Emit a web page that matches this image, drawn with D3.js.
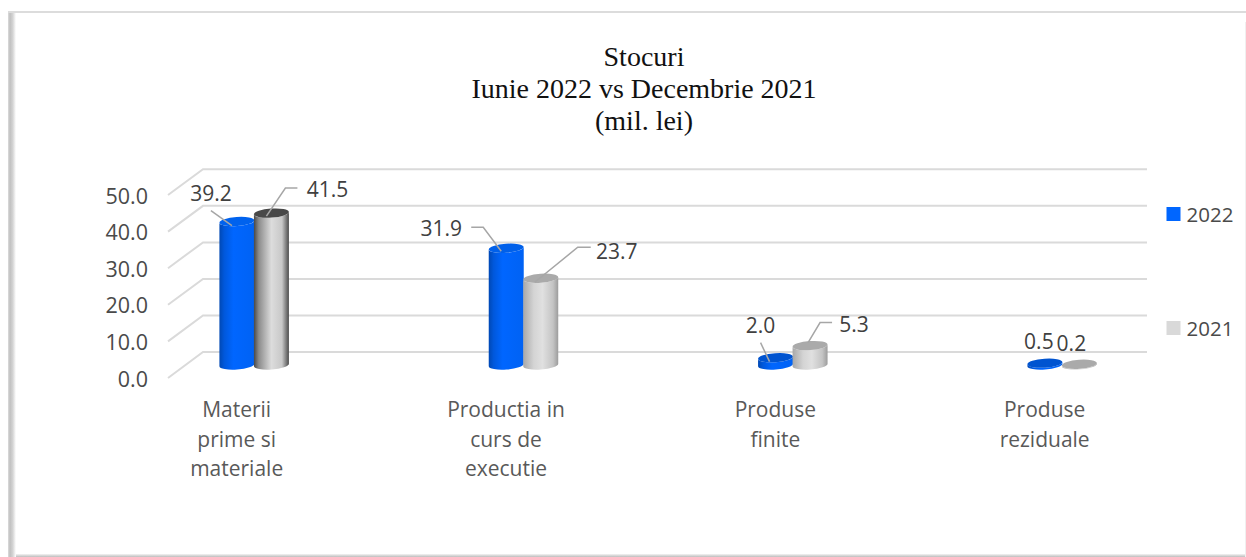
<!DOCTYPE html>
<html>
<head>
<meta charset="utf-8">
<script src="https://cdnjs.cloudflare.com/ajax/libs/d3/7.8.5/d3.min.js"></script>
<style>
  html, body { margin: 0; padding: 0; background: #fff; }
  svg { display: block; }
  .sans { font-family: "Open Sans", sans-serif; fill: #4a4a4a; }
  .cat { fill: #595959; }
  .title { font-family: "Liberation Serif", serif; fill: #111; font-size: 28px; }
</style>
</head>
<body>
<div id="chart"></div>
<script>
const titleLines = ["Stocuri", "Iunie 2022 vs Decembrie 2021", "(mil. lei)"];
const categories = [
  ["Materii", "prime si", "materiale"],
  ["Productia in", "curs de", "executie"],
  ["Produse", "finite"],
  ["Produse", "reziduale"]
];
const seriesNames = ["2022", "2021"];
const values2022 = [39.2, 31.9, 2.0, 0.5];
const values2021 = [41.5, 23.7, 5.3, 0.2];
const axisTicks = [0, 10, 20, 30, 40, 50];

// Callout placement for each value label, relative to the top of its cylinder.
const callouts2022 = [
  { label: [-26, -28.5], line: [[-26, -11], [-5, 4]] },
  { label: [-65, -20], line: [[-35, -21], [-23, -21], [-5, 3]] },
  { label: [-15, -32], line: [[-15, -15], [-6, 4]] },
  { label: [-6, -22], line: null }
];
const callouts2021 = [
  { label: [56, -24], line: [[-5, 3], [14, -25], [26, -25]] },
  { label: [76, -27], line: [[-6, 4], [37, -31], [50, -31]] },
  { label: [44, -21], line: [[-2, -3], [10, -23], [22, -23]] },
  { label: [-8, -21], line: null }
];

const width = 1246, height = 557;
const svg = d3.select("#chart").append("svg").attr("width", width).attr("height", height);
const defs = svg.append("defs");

function gradient(id, stops, vertical) {
  const g = defs.append("linearGradient").attr("id", id);
  if (vertical) g.attr("x2", 0).attr("y2", 1);
  g.selectAll("stop").data(stops).join("stop")
    .attr("offset", d => d[0]).attr("stop-color", d => d[1]);
}
gradient("blueBody", [[0, "#0048b4"], [0.14, "#0058dc"], [0.4, "#0066ff"], [1, "#0062f4"]]);
gradient("greyStrong", [[0, "#484848"], [0.14, "#8c8c8c"], [0.5, "#dcdcdc"], [0.8, "#c8c8c8"], [1, "#4c4c4c"]]);
gradient("greySoft", [[0, "#a8a8a8"], [0.3, "#d4d4d4"], [0.55, "#e0e0e0"], [0.85, "#c4c4c4"], [1, "#9c9c9c"]]);

// Frame: pale outer rule with a bevelled left and bottom edge.
gradient("bevelLeft", [[0, "#dcdcdc"], [0.25, "#c0c0c0"], [0.6, "#d4d4d4"], [1, "#ffffff"]]);
gradient("bevelBottom", [[0, "#f4f4f4"], [0.4, "#dedede"], [1, "#bdbdbd"]], true);
svg.append("rect").attr("x", 8).attr("y", 554).attr("width", 1238).attr("height", 3).attr("fill", "url(#bevelBottom)");
svg.append("rect").attr("x", 8).attr("y", 11).attr("width", 8).attr("height", 546).attr("fill", "url(#bevelLeft)");
svg.append("rect").attr("x", 8).attr("y", 11).attr("width", 1238).attr("height", 2).attr("fill", "#dcdcdc");
svg.append("rect").attr("x", 1245).attr("y", 22).attr("width", 1).attr("height", 535).attr("fill", "#f0f0f0");

// Title
svg.append("g").selectAll("text").data(titleLines).join("text")
  .attr("class", "title").attr("x", 644).attr("y", (d, i) => 66 + i * 32)
  .attr("text-anchor", "middle").text(d => d);

// Scales: the floor is drawn in perspective, so the same value sits at three heights.
const yBack = d3.scaleLinear().domain([0, 50]).range([352, 169.3]);
const yFront = d3.scaleLinear().domain([0, 50]).range([378, 195]);
const yMark = d3.scaleLinear().domain([0, 50]).range([365, 182]);
const x = d3.scaleBand().domain(d3.range(categories.length)).range([119.5, 1196.8]);
const groupCentre = i => x(i) + x.bandwidth() / 2;

const sideX = [168, 203], backEnd = 1147;
const grid = svg.append("g").attr("stroke", "#dadada").attr("stroke-width", 2).attr("fill", "none");
grid.selectAll("path").data(axisTicks).join("path")
  .attr("d", d => `M${sideX[0]},${yFront(d)}L${sideX[1]},${yBack(d)}L${backEnd},${yBack(d)}`);

// Axis labels
svg.append("g").selectAll("text").data(axisTicks).join("text")
  .attr("class", "sans").attr("font-size", 21.5).attr("x", 148).attr("y", d => yFront(d) + 8.5)
  .attr("text-anchor", "end").text(d => d.toFixed(1));

const catLabels = svg.append("g").selectAll("g").data(categories).join("g")
  .attr("transform", (d, i) => `translate(${groupCentre(i) - 17.5},0)`);
catLabels.selectAll("text").data(d => d).join("text")
  .attr("class", "sans cat").attr("font-size", 21).attr("text-anchor", "middle")
  .attr("y", (d, i) => 417 + i * 29.5).text(d => d);

// Cylinders
const rx = 17.5, ry = 4.5, tilt = 1.2;
function bodyPath(cx, topY, baseY) {
  const l = cx - rx, r = cx + rx;
  return `M${l},${topY + tilt}L${l},${baseY + tilt}` +
    `A${rx},${ry} -4 0 0 ${r},${baseY - tilt}L${r},${topY - tilt}` +
    `A${rx},${ry} -4 0 1 ${l},${topY + tilt}Z`;
}
const series = [
  { name: seriesNames[0], values: values2022, callouts: callouts2022, dx: -17.25,
    fill: () => "url(#blueBody)", top: i => i === 0 ? "#0062ee" : i === 1 ? "#0060ea" : "#0054d0" },
  { name: seriesNames[1], values: values2021, callouts: callouts2021, dx: 17.25,
    fill: i => i === 0 ? "url(#greyStrong)" : "url(#greySoft)", top: i => i === 0 ? "#484848" : "#aaaaaa" }
];
series.forEach(s => {
  const g = svg.append("g");
  const rows = s.values.map((v, i) => ({ v, i, cx: groupCentre(i) + s.dx, topY: yMark(v), baseY: yMark(0) }));
  g.selectAll("path.body").data(rows).join("path").attr("class", "body")
    .attr("d", d => bodyPath(d.cx, d.topY, d.baseY))
    .attr("fill", d => s.fill(d.i));
  g.selectAll("ellipse").data(rows).join("ellipse")
    .attr("rx", rx).attr("ry", ry)
    .attr("transform", d => `translate(${d.cx},${d.topY}) rotate(-4)`)
    .attr("fill", d => s.top(d.i));
});

// Value labels and their leader lines
const line = d3.line();
const leaders = svg.append("g").attr("fill", "none").attr("stroke", "#a6a6a6").attr("stroke-width", 1.5);
const valueLabels = svg.append("g");
series.forEach(s => {
  s.values.forEach((v, i) => {
    const ax = groupCentre(i) + s.dx, ay = yMark(v), c = s.callouts[i];
    if (c.line) leaders.append("path").attr("d", line(c.line.map(p => [ax + p[0], ay + p[1]])));
    valueLabels.append("text").attr("class", "sans").attr("font-size", 21)
      .style("fill", "#404040")
      .attr("text-anchor", "middle").attr("x", ax + c.label[0]).attr("y", ay + c.label[1] + 7.5)
      .text(v.toFixed(1));
  });
});

// Legend
const legendColours = ["#0066ff", "#d9d9d9"];
const legend = svg.append("g").selectAll("g").data(seriesNames).join("g")
  .attr("transform", (d, i) => `translate(1166.5,${207 + i * 114})`);
legend.append("rect").attr("width", 14).attr("height", 14).attr("fill", (d, i) => legendColours[i]);
legend.append("text").attr("class", "sans").attr("font-size", 20.5).attr("x", 20).attr("y", 14.5).text(d => d);
</script>
</body>
</html>
